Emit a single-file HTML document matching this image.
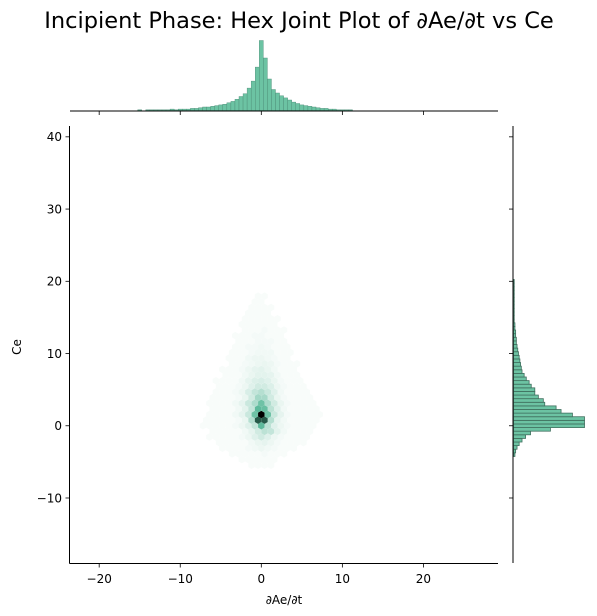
<!DOCTYPE html>
<html><head><meta charset="utf-8"><style>
html,body{margin:0;padding:0;background:#fff;}
svg{display:block;font-family:"DejaVu Sans","Liberation Sans",sans-serif;}
</style></head><body>
<svg id="chart" width="597" height="616" viewBox="0 0 597 616" xmlns="http://www.w3.org/2000/svg">
<text x="299" y="28" text-anchor="middle" font-size="22.5" fill="#000">Incipient Phase: Hex Joint Plot of ∂Ae/∂t vs Ce</text>
<g id="hexes"></g>
<g id="tophist"></g>
<g id="righthist"></g>
<g id="axes"></g>
<text x="284" y="604" text-anchor="middle" font-size="12">∂Ae/∂t</text>
<text x="21" y="347" text-anchor="middle" font-size="12" transform="rotate(-90 21 347)">Ce</text>
</svg>
<script>
const xTicks=[-20,-10,0,10,20];
const yTicks=[-10,0,10,20,30,40];
const xTickLabels=["\u221220","\u221210","0","10","20"];
const yTickLabels=["\u221210","0","10","20","30","40"];
const hexRowStart=-7;
const hexRows=[
[0,0,0,0,0,0,0,1,1,1,1,0,0,0,0,0,0,0,0],
[0,0,0,0,0,0,1,1,1,1,1,1,0,0,0,0,0,0,0],
[0,0,0,0,1,1,1,1,1,2,1,1,1,0,0,0,0,0,0],
[0,0,0,1,1,1,1,2,3,4,3,2,1,1,1,0,0,0,0],
[0,0,1,1,1,1,1,3,5,6,4,2,1,1,1,1,0,0,0],
[0,1,1,1,1,1,2,4,8,12,8,4,2,1,1,1,1,0,0],
[0,1,1,1,1,1,3,6,12,18,16,7,3,1,1,1,1,0,0],
[1,1,1,1,1,2,4,8,16,45,18,8,4,2,1,1,1,1,0],
[1,1,1,1,1,2,5,20,75,75,20,6,3,1,1,1,1,1,0],
[0,1,1,1,1,3,6,14,40,100,40,14,6,2,1,1,1,1,1],
[0,1,1,1,1,3,7,16,45,42,18,8,3,1,1,1,1,1,0],
[0,1,1,1,1,3,6,14,22,40,22,12,5,2,1,1,1,1,0],
[0,1,1,1,1,2,5,12,25,24,12,5,2,1,1,1,1,0,0],
[0,0,1,1,1,2,4,10,16,20,14,8,3,1,1,1,1,0,0],
[0,0,1,1,1,2,4,8,12,12,9,4,2,1,1,1,0,0,0],
[0,0,1,1,1,1,3,6,9,10,8,5,2,1,1,1,0,0,0],
[0,0,0,1,1,1,3,5,7,7,6,3,1,1,1,0,0,0,0],
[0,0,0,1,1,1,2,4,6,7,5,3,1,1,1,0,0,0,0],
[0,0,0,0,1,1,2,3,4,5,4,2,1,1,1,0,0,0,0],
[0,0,0,0,1,1,1,3,4,4,3,2,1,1,0,0,0,0,0],
[0,0,0,0,1,1,1,2,3,3,3,1,1,1,0,0,0,0,0],
[0,0,0,0,0,1,1,2,2,3,2,1,1,1,0,0,0,0,0],
[0,0,0,0,0,1,1,1,2,2,2,1,1,0,0,0,0,0,0],
[0,0,0,0,0,1,1,1,2,2,1,1,1,0,0,0,0,0,0],
[0,0,0,0,0,0,1,1,1,2,1,1,1,0,0,0,0,0,0],
[0,0,0,0,0,0,1,1,1,1,1,1,0,0,0,0,0,0,0],
[0,0,0,0,0,0,1,1,1,1,1,1,0,0,0,0,0,0,0],
[0,0,0,0,0,0,0,1,1,1,1,0,0,0,0,0,0,0,0],
[0,0,0,0,0,0,0,1,1,1,1,0,0,0,0,0,0,0,0],
[0,0,0,0,0,0,0,0,1,1,0,0,0,0,0,0,0,0,0],
[0,0,0,0,0,0,0,0,1,1,0,0,0,0,0,0,0,0,0]
];
const topBinStart=-15, topBinWidth=0.5;
const topCounts=[1,0,1,1,1,1,1,1,2,1,2,2,2,3,3,4,5,5,6,7,8,9,11,13,16,20,24,32,42,62,100,75,45,30,25,21,18,15,12,10,8,7,6,5,4,3,3,2,2,1,1,1,1];
const rightBinStart=-4.25, rightBinWidth=0.5;
const rightCounts=[2,3,5,8,12,17,24,52,100,100,100,83,67,60,44,42,35,30,30,25,22,18,15,12,11,10,9,8,7,6,5,4,4,3,3,2,2,1,1,1,1,1,1,1,1,1,1,1,1];

const X0=70,X1=498,Y0=126,Y1=563;
const xmin=-23.6,xmax=29.2,ymin=-19.0,ymax=41.5;
const sx=v=>X0+(v-xmin)/(xmax-xmin)*(X1-X0);
const sy=v=>Y1-(v-ymin)/(ymax-ymin)*(Y1-Y0);
const NS="http://www.w3.org/2000/svg";
function mk(tag,attrs,parent){const e=document.createElementNS(NS,tag);for(const k in attrs)e.setAttribute(k,attrs[k]);parent.appendChild(e);return e;}
function lerp(a,b,t){return a.map((v,i)=>Math.round(v+(b[i]-v)*t));}
function col(c){const t=Math.min(1,c/100);const w=[251,253,252],g=[76,179,145],k=[0,0,0];
 const r=t<0.5?lerp(w,g,t/0.5):lerp(g,k,(t-0.5)/0.5);return `rgb(${r[0]},${r[1]},${r[2]})`;}
const hexG=document.getElementById('hexes');
const dxU=0.8,dyU=0.78;
const hw=(sx(dxU)-sx(0))/2; const hh=hw/0.866;
hexRows.forEach((row,ri)=>{const j=hexRowStart+ri;const odd=Math.abs(j)%2===1;
 row.forEach((c,ci)=>{if(c<=0)return;const i=ci-9;const xc=sx((i+(odd?0.5:0))*dxU),yc=sy(j*dyU);
  let pts=[];for(let a=0;a<6;a++){const ang=Math.PI/6+a*Math.PI/3;pts.push((xc+hh*Math.cos(ang)).toFixed(2)+','+(yc+hh*Math.sin(ang)).toFixed(2));}
  const p=mk('polygon',{points:pts.join(' '),fill:col(c)},hexG);
  
  
 });});
const topG=document.getElementById('tophist');const TB=110.5,tScale=0.7;
topCounts.forEach((c,k)=>{if(c<=0)return;const a=topBinStart+k*topBinWidth;const x=sx(a-topBinWidth/2),w=sx(a+topBinWidth/2)-x;
 const r=mk('rect',{x:x,y:TB-c*tScale,width:w,height:c*tScale,fill:'#6cc3a3',stroke:'#4a8a74','stroke-width':0.4},topG);
 
 });
const rG=document.getElementById('righthist');const RB=513.5,rScale=0.71;
rightCounts.forEach((c,k)=>{if(c<=0)return;const a=rightBinStart+k*rightBinWidth;const y=sy(a+rightBinWidth),h=sy(a)-y;
 const r=mk('rect',{x:RB,y:y,width:c*rScale,height:h,fill:'#6cc3a3',stroke:'#3f6f5e','stroke-width':0.8},rG);
 
 });
const ax=document.getElementById('axes');
const l1=mk('line',{x1:X0-0.5,y1:Y0,x2:X0-0.5,y2:Y1+0.5,stroke:'#000','stroke-width':1},ax);

const l2=mk('line',{x1:X0-0.5,y1:Y1+0.5,x2:X1,y2:Y1+0.5,stroke:'#000','stroke-width':1},ax);

const l3=mk('line',{x1:X0,y1:TB+0.5,x2:X1,y2:TB+0.5,stroke:'#000','stroke-width':1},ax);

const l4=mk('line',{x1:RB-0.5,y1:Y0,x2:RB-0.5,y2:Y1,stroke:'#000','stroke-width':1},ax);

xTicks.forEach((v,k)=>{const x=sx(v);
 mk('line',{x1:x,y1:Y1+0.5,x2:x,y2:Y1+4.5,stroke:'#000','stroke-width':0.8},ax);
 mk('line',{x1:x,y1:TB+0.5,x2:x,y2:TB+4.5,stroke:'#000','stroke-width':0.8},ax);
 const t=mk('text',{x:x,y:Y1+20,'text-anchor':'middle','font-size':12},ax);t.textContent=xTickLabels[k];
 
 });
yTicks.forEach((v,k)=>{const y=sy(v);
 mk('line',{x1:X0-4.5,y1:y,x2:X0-0.5,y2:y,stroke:'#000','stroke-width':0.8},ax);
 mk('line',{x1:RB-4.5,y1:y,x2:RB-0.5,y2:y,stroke:'#000','stroke-width':0.8},ax);
 const t=mk('text',{x:X0-8,y:y+4.3,'text-anchor':'end','font-size':12},ax);t.textContent=yTickLabels[k];
 
 });
</script>
</body></html>
